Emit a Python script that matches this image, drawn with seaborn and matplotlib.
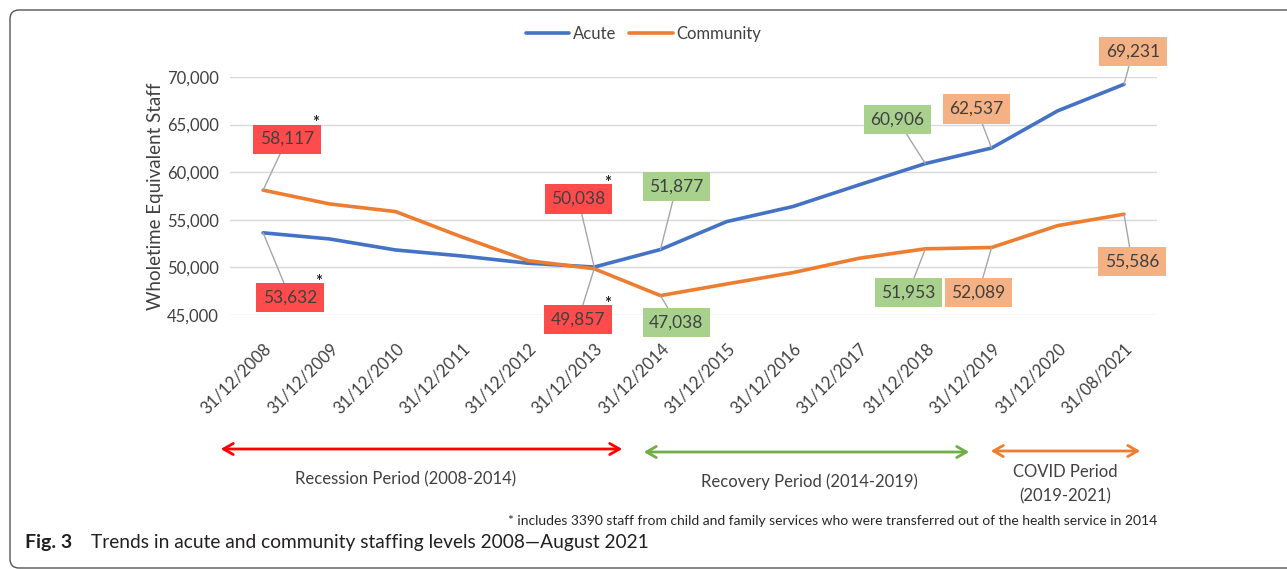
import numpy as np
import pandas as pd
import matplotlib
matplotlib.use("Agg")
import matplotlib.pyplot as plt
import seaborn as sns
from matplotlib.patches import FancyArrowPatch, FancyBboxPatch
from matplotlib.transforms import IdentityTransform
from matplotlib.ticker import FuncFormatter

# -----------------------------
# data
# -----------------------------
dates = ["31/12/2008", "31/12/2009", "31/12/2010", "31/12/2011", "31/12/2012",
         "31/12/2013", "31/12/2014", "31/12/2015", "31/12/2016", "31/12/2017",
         "31/12/2018", "31/12/2019", "31/12/2020", "31/08/2021"]
acute = [53632, 52990, 51830, 51200, 50440, 50038, 51877,
         54810, 56390, 58670, 60906, 62537, 66450, 69231]
community = [58117, 56670, 55860, 53200, 50710, 49857, 47038,
             48260, 49450, 50960, 51953, 52089, 54390, 55586]

# labelled points: (series, index)
labelled = [("Community", 0), ("Acute", 0), ("Acute", 5), ("Community", 5),
            ("Acute", 6), ("Community", 6), ("Acute", 10), ("Acute", 11),
            ("Acute", 13), ("Community", 10), ("Community", 11), ("Community", 13)]

periods = ["Recession Period (2008-2014)", "Recovery Period (2014-2019)",
           "COVID Period\n(2019-2021)"]

# -----------------------------
# styling / layout
# -----------------------------
sns.set_style("white")
plt.rcParams["font.family"] = ["Lato", "DejaVu Sans"]

BLUE = "#4472C4"
ORANGE = "#ED7D31"
RED_BOX = "#FF4B4B"
GREEN_BOX = "#A9D18E"
ORANGE_BOX = "#F4B183"
TXT = "#404040"

df = pd.DataFrame({
    "idx": list(range(len(dates))) * 2,
    "value": acute + community,
    "series": ["Acute"] * len(dates) + ["Community"] * len(dates),
})

fig = plt.figure(figsize=(12.87, 5.69), dpi=100)
ax = fig.add_axes([0.1787, 0.4464, 0.7204, 0.4183])

sns.lineplot(data=df, x="idx", y="value", hue="series",
             palette={"Acute": BLUE, "Community": ORANGE},
             linewidth=2.6, ax=ax, legend=False)

ax.set_xlim(-0.5, 13.5)
ax.set_ylim(45000, 70000)
ax.set_yticks(np.arange(45000, 70001, 5000))
ax.yaxis.set_major_formatter(FuncFormatter(lambda v, p: f"{int(v):,}"))
ax.set_xticks(range(len(dates)))
ax.set_xticklabels(dates, rotation=45, ha="right", rotation_mode="anchor")
ax.tick_params(axis="both", length=0, labelsize=12, colors=TXT, pad=8)
ax.tick_params(axis="x", pad=18)
ax.grid(axis="y", color="#D9D9D9", lw=1)
ax.set_axisbelow(True)
for s in ax.spines.values():
    s.set_visible(False)
ax.set_xlabel("")
ax.set_ylabel("Wholetime Equivalent Staff", fontsize=13.5, color=TXT, labelpad=2)

# legend
h1, = ax.plot([], [], color=BLUE, lw=2.6, label="Acute")
h2, = ax.plot([], [], color=ORANGE, lw=2.6, label="Community")
fig.legend(handles=[h1, h2], loc="center", bbox_to_anchor=(0.5, 0.94), ncol=2,
           frameon=False, fontsize=12, handlelength=2.6, columnspacing=0.8,
           handletextpad=0.2, labelcolor=TXT)

# data labels (offsets in pixels from the point, box colour, asterisk)
label_style = [((24, 51), RED_BOX, True), ((27, -65), RED_BOX, True),
               ((-16, 68), RED_BOX, True), ((-16, -51), RED_BOX, True),
               ((16, 63), GREEN_BOX, False), ((16, -27), GREEN_BOX, False),
               ((-28, 44), GREEN_BOX, False), ((-15, 39), ORANGE_BOX, False),
               ((9, 33), ORANGE_BOX, False), ((-17, -44), GREEN_BOX, False),
               ((-13, -45), ORANGE_BOX, False), ((8, -47), ORANGE_BOX, False)]
vals = {"Acute": acute, "Community": community}
for (ser, i), (off, col, star) in zip(labelled, label_style):
    v = vals[ser][i]
    ax.annotate(f"{v:,}", xy=(i, v), xytext=off, textcoords="offset pixels",
                ha="center", va="center", fontsize=12.5, color=TXT,
                bbox=dict(boxstyle="square,pad=0.38", fc=col, ec="none"),
                arrowprops=dict(arrowstyle="-", color="#A6A6A6", lw=1,
                                shrinkA=0, shrinkB=0),
                annotation_clip=False, zorder=5)
    if star:
        ax.annotate("*", xy=(i, v), xytext=(off[0] + 29, off[1] + 16),
                    textcoords="offset pixels", ha="center", va="center",
                    fontsize=12, fontweight="bold", color="#262626",
                    annotation_clip=False)

# period arrows
W, H = 1287, 569
arrows = [((218, 449), (625, 449), "#FF0000"),
          ((641, 452), (972, 452), "#70AD47"),
          ((988, 451), (1143, 451), ORANGE)]
for (x0, y0), (x1, y1), c in arrows:
    fig.patches.append(FancyArrowPatch((x0 / W, 1 - y0 / H), (x1 / W, 1 - y1 / H),
                                       transform=fig.transFigure,
                                       arrowstyle="<->,head_length=7,head_width=4",
                                       color=c, lw=2, mutation_scale=1))
period_pos = [(406, 479), (809, 482), (1065, 484)]
for t, (px, py) in zip(periods, period_pos):
    fig.text(px / W, 1 - py / H, t, ha="center", va="center", fontsize=12,
             color=TXT, linespacing=1.6)

fig.text(833 / W, 1 - 521 / H,
         "* includes 3390 staff from child and family services who were "
         "transferred out of the health service in 2014",
         ha="center", va="center", fontsize=10, color="#262626")

# caption
fig.text(25 / W, 1 - 548 / H, "Fig. 3", ha="left", va="baseline",
         fontsize=14, fontweight="bold", color="#231F20")
fig.text(91 / W, 1 - 548 / H,
         "Trends in acute and community staffing levels 2008\u2014August 2021",
         ha="left", va="baseline", fontsize=13.8, color="#231F20")

# rounded frame round the figure panel
fig.patches.append(FancyBboxPatch((10, 1), 1320, 558,
                                  boxstyle="round,pad=0,rounding_size=9",
                                  transform=IdentityTransform(), fill=False,
                                  ec="#555555", lw=1))

fig.savefig("out.png", dpi=100)
